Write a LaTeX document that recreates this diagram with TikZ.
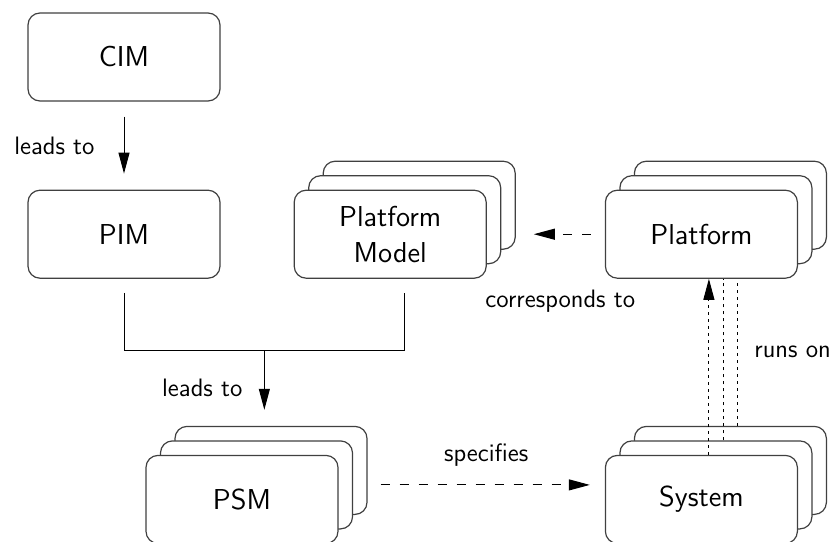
\documentclass[tikz,border=0pt]{standalone}
\usepackage{tikz}
\usetikzlibrary{positioning,calc,arrows.meta}
\pgfdeclarelayer{background}
\pgfsetlayers{background,main}

\begin{document}
\begin{tikzpicture}[
    model/.style={draw=black!75, line width=0.6pt, fill=white, rounded corners=6pt,
        minimum width=96pt, minimum height=44pt, align=center,
        font=\fontsize{14.4pt}{18pt}\selectfont\sffamily},
    lbl/.style={font=\fontsize{12.6pt}{15pt}\selectfont\sffamily, inner sep=1pt},
    arr/.style={-{Triangle[length=10.5pt,width=5.5pt]}, line width=0.5pt},
    dasharr/.style={arr, dash pattern=on 4.5pt off 5pt},
    dotline/.style={line width=0.5pt, dash pattern=on 1.5pt off 2pt},
    node distance=44pt
]
    \useasboundingbox (0,0) rectangle (415pt,-270.5pt);

    \node[model] (cim) at (62pt,-28.5pt) {CIM};
    \node[model, below=of cim] (pim) {PIM};
    \node[model, right=36.5pt of pim] (pm) {Platform\\Model};
    \node[model, right=59pt of pm] (plat) {Platform};
    \node[model, below=88pt of pim, xshift=59pt] (psm) {PSM};
    \node[model, below=88pt of plat] (sys) {System};

    % stacked copies behind the front boxes
    \begin{pgfonlayer}{background}
        \node[model] (pm3) at ([shift={(14.5pt,14.5pt)}]pm) {};
        \node[model] (pm2) at ([shift={(7.25pt,7.25pt)}]pm) {};
        \node[model] (plat3) at ([shift={(14.5pt,14.5pt)}]plat) {};
        \node[model] (plat2) at ([shift={(7.25pt,7.25pt)}]plat) {};
        \node[model] (psm3) at ([shift={(14.5pt,14.5pt)}]psm) {};
        \node[model] (psm2) at ([shift={(7.25pt,7.25pt)}]psm) {};
        \node[model] (sys3) at ([shift={(14.5pt,14.5pt)}]sys) {};
        \node[model] (sys2) at ([shift={(7.25pt,7.25pt)}]sys) {};
    \end{pgfonlayer}

    \draw[arr, shorten <=7.5pt, shorten >=8pt] (cim) -- node[lbl, left=13.5pt] (lead1) {leads to} (pim);

    \coordinate (pmfoot) at (pm2.center |- pm.south);
    \draw[line width=0.5pt] ([yshift=-7pt]pim.south) |- coordinate[pos=.75] (join) ([yshift=-36pt]pmfoot) -- ([yshift=-7pt]pmfoot);
    \draw[arr, shorten >=8pt] (join) -- node[lbl, left=9.75pt] (lead2) {leads to} (join |- psm3.north);

    \draw[dasharr, shorten <=6.5pt, shorten >=7.5pt] (psm3.east |- psm2) -- node[lbl, above=8pt] (spec) {specifies} (sys.west |- psm2);

    \draw[dasharr, shorten <=7pt, shorten >=9pt] (plat.west) -- node[lbl, yshift=-33.5pt] (corr) {corresponds to} (pm3.east |- plat.west);

    \draw[dotline, arr] ([xshift=3.75pt]sys.north) -- ([xshift=3.75pt]sys.north |- plat.south);
    \draw[dotline] ([xshift=3.75pt]sys2.north) -- ([xshift=3.75pt]sys2.north |- plat.south);
    \draw[dotline] ([xshift=3.75pt]sys3.north) -- node[lbl, right=7pt] (runs) {runs on} ([xshift=3.75pt]sys3.north |- plat.south);
\end{tikzpicture}
\end{document}
